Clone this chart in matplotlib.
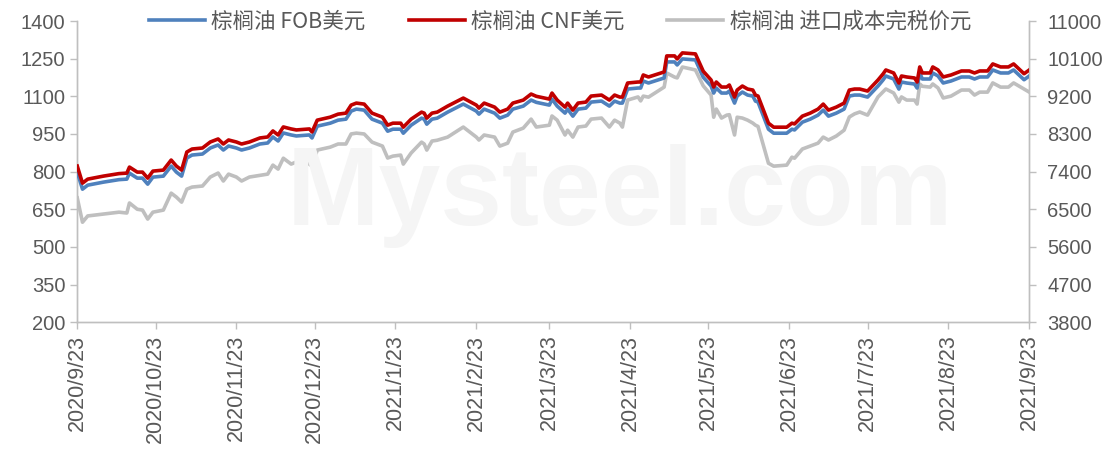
import pandas as pd
import matplotlib.pyplot as plt

# dates of the observations
dates = [
    "2020-09-23", "2020-09-25", "2020-09-27", "2020-10-03", "2020-10-09", "2020-10-12",
    "2020-10-13", "2020-10-16", "2020-10-18", "2020-10-20", "2020-10-22", "2020-10-26",
    "2020-10-29", "2020-10-31", "2020-11-02", "2020-11-04", "2020-11-06", "2020-11-10",
    "2020-11-13", "2020-11-16", "2020-11-18", "2020-11-20", "2020-11-23", "2020-11-25",
    "2020-11-28", "2020-12-02", "2020-12-05", "2020-12-07", "2020-12-09", "2020-12-11",
    "2020-12-14", "2020-12-16", "2020-12-21", "2020-12-22", "2020-12-24", "2020-12-29",
    "2021-01-01", "2021-01-04", "2021-01-06", "2021-01-08", "2021-01-11", "2021-01-14",
    "2021-01-18", "2021-01-20", "2021-01-22", "2021-01-25", "2021-01-26", "2021-01-29",
    "2021-02-02", "2021-02-03", "2021-02-04", "2021-02-06", "2021-02-08", "2021-02-12",
    "2021-02-18", "2021-02-23", "2021-02-24", "2021-02-26", "2021-03-02", "2021-03-04",
    "2021-03-07", "2021-03-09", "2021-03-13", "2021-03-16", "2021-03-18", "2021-03-23",
    "2021-03-24", "2021-03-26", "2021-03-29", "2021-03-30", "2021-04-01", "2021-04-03",
    "2021-04-06", "2021-04-08", "2021-04-12", "2021-04-15", "2021-04-17", "2021-04-19",
    "2021-04-20", "2021-04-22", "2021-04-26", "2021-04-27", "2021-04-28", "2021-04-30",
    "2021-05-06", "2021-05-07", "2021-05-10", "2021-05-11", "2021-05-13", "2021-05-18",
    "2021-05-21", "2021-05-24", "2021-05-25", "2021-05-26", "2021-05-28", "2021-05-30",
    "2021-05-31", "2021-06-02", "2021-06-03", "2021-06-05", "2021-06-07", "2021-06-09",
    "2021-06-10", "2021-06-11", "2021-06-15", "2021-06-17", "2021-06-22", "2021-06-24",
    "2021-06-25", "2021-06-28", "2021-07-01", "2021-07-04", "2021-07-06", "2021-07-08",
    "2021-07-11", "2021-07-14", "2021-07-16", "2021-07-18", "2021-07-20", "2021-07-23",
    "2021-07-27", "2021-07-29", "2021-07-30", "2021-08-02", "2021-08-04", "2021-08-05",
    "2021-08-07", "2021-08-10", "2021-08-11", "2021-08-12", "2021-08-13", "2021-08-16",
    "2021-08-17", "2021-08-19", "2021-08-21", "2021-08-24", "2021-08-28", "2021-08-31",
    "2021-09-02", "2021-09-04", "2021-09-07", "2021-09-09", "2021-09-12", "2021-09-15",
    "2021-09-17", "2021-09-21", "2021-09-23",
]

# 棕榈油 CNF 美元
cnf_usd = [
    822, 754, 770, 782, 792, 794, 818, 798, 798, 774, 802, 806,
    846, 822, 806, 878, 890, 894, 918, 930, 910, 926, 918, 910,
    918, 934, 938, 962, 946, 978, 970, 966, 970, 958, 1005, 1017,
    1029, 1033, 1065, 1073, 1069, 1033, 1017, 985, 993, 993, 977, 1009,
    1037, 1033, 1013, 1033, 1037, 1061, 1093, 1065, 1053, 1073, 1057, 1037,
    1049, 1073, 1085, 1109, 1100, 1089, 1113, 1085, 1057, 1073, 1045, 1073,
    1077, 1101, 1105, 1085, 1105, 1097, 1097, 1153, 1157, 1157, 1185, 1177,
    1197, 1261, 1261, 1249, 1273, 1269, 1200, 1165, 1137, 1157, 1137, 1137,
    1145, 1097, 1125, 1141, 1129, 1125, 1105, 1101, 993, 977, 977, 993,
    990, 1021, 1033, 1049, 1069, 1045, 1057, 1073, 1125, 1129, 1129, 1121,
    1165, 1190, 1205, 1193, 1153, 1181, 1177, 1173, 1157, 1217, 1193, 1193,
    1217, 1205, 1177, 1185, 1201, 1201, 1193, 1201, 1201, 1229, 1217, 1217,
    1229, 1190, 1205,
]

# 棕榈油 FOB 美元
fob_usd = [
    798, 730, 746, 758, 768, 770, 794, 774, 774, 750, 778, 782,
    822, 798, 782, 854, 866, 870, 894, 906, 886, 902, 894, 886,
    894, 910, 914, 938, 922, 954, 946, 942, 946, 934, 981, 993,
    1005, 1009, 1041, 1049, 1045, 1009, 993, 961, 969, 969, 953, 985,
    1013, 1009, 989, 1009, 1013, 1037, 1069, 1041, 1029, 1049, 1033, 1013,
    1025, 1049, 1061, 1085, 1076, 1065, 1089, 1061, 1033, 1049, 1021, 1049,
    1053, 1077, 1081, 1061, 1081, 1073, 1073, 1129, 1133, 1133, 1161, 1153,
    1173, 1237, 1237, 1225, 1249, 1245, 1176, 1141, 1113, 1133, 1113, 1113,
    1121, 1073, 1101, 1117, 1105, 1101, 1081, 1077, 969, 953, 953, 969,
    966, 997, 1009, 1025, 1045, 1021, 1033, 1049, 1101, 1105, 1105, 1097,
    1141, 1166, 1181, 1169, 1129, 1157, 1153, 1149, 1133, 1193, 1169, 1169,
    1193, 1181, 1153, 1161, 1177, 1177, 1169, 1177, 1177, 1205, 1193, 1193,
    1205, 1166, 1181,
]

# 棕榈油 进口成本完税价 元
cost_cny = [
    6770, 6190, 6340, 6385, 6430, 6410, 6650, 6500, 6480, 6265, 6430, 6480,
    6885, 6790, 6670, 6980, 7030, 7055, 7270, 7365, 7175, 7340, 7270, 7175,
    7270, 7310, 7340, 7555, 7460, 7720, 7580, 7630, 7580, 7530, 7915, 7985,
    8060, 8060, 8300, 8320, 8300, 8105, 8010, 7725, 7770, 7795, 7580, 7845,
    8105, 8060, 7915, 8130, 8150, 8225, 8465, 8225, 8155, 8275, 8225, 8010,
    8080, 8345, 8440, 8655, 8465, 8510, 8730, 8630, 8275, 8390, 8225, 8465,
    8490, 8655, 8680, 8465, 8630, 8560, 8465, 9110, 9185, 9090, 9205, 9180,
    9420, 9757, 9660, 9640, 9900, 9830, 9450, 9230, 8700, 8895, 8680, 8750,
    8760, 8275, 8700, 8680, 8630, 8560, 8510, 8480, 7600, 7530, 7555, 7745,
    7720, 7940, 8010, 8080, 8225, 8155, 8250, 8390, 8705, 8780, 8825, 8750,
    9185, 9310, 9375, 9280, 9060, 9185, 9110, 9110, 9015, 9495, 9440, 9420,
    9495, 9400, 9160, 9205, 9350, 9350, 9230, 9300, 9300, 9520, 9420, 9420,
    9520, 9375, 9300,
]

left_ticks = [200, 350, 500, 650, 800, 950, 1100, 1250, 1400]
right_ticks = [3800, 4700, 5600, 6500, 7400, 8300, 9200, 10100, 11000]
tick_dates = ["2020-09-23", "2020-10-23", "2020-11-23", "2020-12-23", "2021-01-23", "2021-02-23",
              "2021-03-23", "2021-04-23", "2021-05-23", "2021-06-23", "2021-07-23", "2021-08-23",
              "2021-09-23"]

df = pd.DataFrame({"date": pd.to_datetime(dates), "fob": fob_usd, "cnf": cnf_usd, "cost": cost_cny})
ticks = pd.to_datetime(tick_dates)

cjk = ["Noto Sans CJK SC", "DejaVu Sans"]
plt.rcParams["font.family"] = ["Liberation Sans", "DejaVu Sans"]
label_color = "#595959"
axis_color = "#bfbfbf"

fig = plt.figure(figsize=(11.2, 4.57), dpi=100)
ax = fig.add_axes([0.069, 0.295, 0.850, 0.659])
ax2 = ax.twinx()

# faint watermark
ax.text(0.57, 0.42, "Mysteel.com", transform=ax.transAxes, ha="center", va="center",
        fontsize=80, fontweight="bold", color="#f5f5f5", zorder=0)

l3, = ax2.plot(df["date"], df["cost"], color="#bfbfbf", lw=2.6, label="棕榈油 进口成本完税价元")
l1, = ax.plot(df["date"], df["fob"], color="#4f81bd", lw=2.6, label="棕榈油 FOB美元", zorder=3)
l2, = ax.plot(df["date"], df["cnf"], color="#c00000", lw=2.6, label="棕榈油 CNF美元", zorder=4)
ax.set_zorder(ax2.get_zorder() + 1)
ax.patch.set_visible(False)

ax.set_ylim(200, 1400)
ax.set_yticks(left_ticks)
ax2.set_ylim(3800, 11000)
ax2.set_yticks(right_ticks)
ax.set_xlim(ticks[0], ticks[-1])
ax.set_xticks(ticks)
ax.set_xticklabels([f"{d.year}/{d.month}/{d.day}" for d in ticks], rotation=90)

for a in (ax, ax2):
    a.spines["top"].set_visible(False)
    for s in ("left", "right", "bottom"):
        a.spines[s].set_color(axis_color)
        a.spines[s].set_linewidth(1.0)
    a.tick_params(colors=axis_color, labelcolor=label_color, labelsize=14.5, length=5, width=1)
ax.tick_params(axis="x", pad=4, labelsize=15.5)
ax2.tick_params(axis="y", pad=8)

fig.legend(handles=[l1, l2, l3], loc="center", bbox_to_anchor=(0.5, 0.953), ncol=3,
           frameon=False, prop={"family": cjk, "size": 15.5}, labelcolor=label_color,
           handlelength=2.6, columnspacing=2.0, handletextpad=0.3)

fig.savefig("out.png", dpi=100)
